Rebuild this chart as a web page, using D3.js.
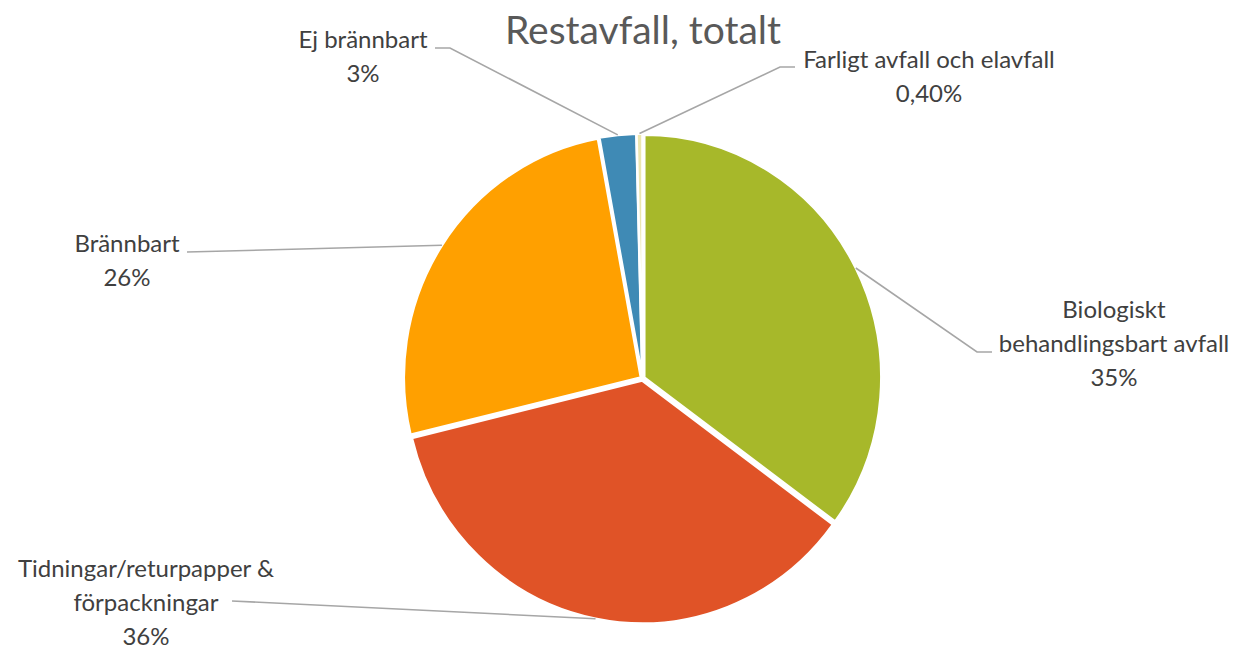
<!DOCTYPE html>
<html>
<head>
<meta charset="utf-8">
<script src="https://cdn.jsdelivr.net/npm/d3@7"></script>
<style>
  html,body{margin:0;padding:0;background:#fff;}
  svg{display:block;}
</style>
</head>
<body>
<div id="chart"></div>
<script>
// Restavfall, totalt — pie
const categories = ['Biologiskt behandlingsbart avfall','Tidningar/returpapper & förpackningar','Brännbart','Ej brännbart','Farligt avfall och elavfall'];
const values = [35.1, 36.1, 25.9, 2.5, 0.4];
const pctLabels = ['35%','36%','26%','3%','0,40%'];
const colors = ['#a7b82a','#e05327','#ffa000','#3f8ab5','#ece6b0'];

// label text lines + layout (first baseline, line height 34)
const labelLines = [
  ['Biologiskt','behandlingsbart avfall'],
  ['Tidningar/returpapper &','förpackningar'],
  ['Brännbart'],
  ['Ej brännbart'],
  ['Farligt avfall och elavfall']
];
const labelPos = [
  {x:1114, y:318, end:[992,352], elbow:[977,352]},
  {x:146,  y:577, end:[232,601], elbow:null},
  {x:127,  y:252, end:[187,252], elbow:null},
  {x:363,  y:48,  end:[435,48],  elbow:[450,48]},
  {x:929,  y:68,  end:[795,67],  elbow:[780,67]}
];

const W = 1240, H = 652;
const cx = 642.5, cy = 378.5, r = 237, sy = 1.025, explode = 2;

const svg = d3.select('#chart').append('svg').attr('width',W).attr('height',H);

svg.append('text').attr('x',643).attr('y',44).attr('text-anchor','middle')
  .style('font-family','Lato,sans-serif').style('font-size','39px').style('fill','#595959')
  .text('Restavfall, totalt');

const data = categories.map((c,i)=>({c, v:values[i], i}));
const pie = d3.pie().value(d=>d.v).sort(null);
const arcs = pie(data);
const arc = d3.arc().innerRadius(0).outerRadius(r);

const g = svg.append('g').attr('transform',`translate(${cx},${cy}) scale(1,${sy})`);
g.selectAll('path').data(arcs).join('path')
  .attr('d',arc)
  .attr('transform',d=>{
    const a=(d.startAngle+d.endAngle)/2;
    return `translate(${Math.sin(a)*explode},${-Math.cos(a)*explode})`;
  })
  .attr('fill',d=>colors[d.data.i])
  .attr('stroke','#fff').attr('stroke-width',2.5).attr('stroke-linejoin','round');

// leader lines from slice edge mid-angle
const lines = svg.append('g');
arcs.forEach(d=>{
  const a=(d.startAngle+d.endAngle)/2;
  const p0=[cx+Math.sin(a)*(r+explode), cy-Math.cos(a)*(r+explode)*sy];
  const L=labelPos[d.data.i];
  const pts=[p0];
  if(L.elbow) pts.push(L.elbow);
  pts.push(L.end);
  lines.append('path').attr('d',d3.line()(pts))
    .attr('fill','none').attr('stroke','#a6a6a6').attr('stroke-width',1.6);
});

// labels
const lab = svg.append('g').style('font-family','Lato,sans-serif').style('font-size','24px').style('fill','#404040');
data.forEach((d,i)=>{
  const L=labelPos[i];
  const t=lab.append('text').attr('text-anchor','middle');
  const rows=labelLines[i].concat([pctLabels[i]]);
  rows.forEach((s,k)=>t.append('tspan').attr('x',L.x).attr('y',L.y+k*34).text(s));
});
</script>
</body>
</html>
